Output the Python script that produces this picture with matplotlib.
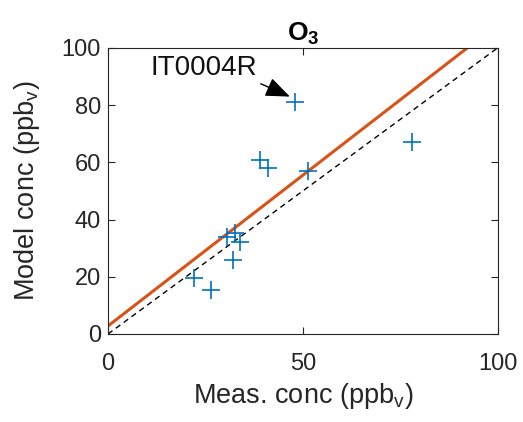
import matplotlib
matplotlib.use("Agg")
import matplotlib.pyplot as plt
import numpy as np

plt.rcParams['font.family'] = ['Liberation Sans', 'DejaVu Sans']
plt.rcParams['mathtext.fontset'] = 'custom'
plt.rcParams['mathtext.rm'] = 'Liberation Sans'
plt.rcParams['mathtext.it'] = 'Liberation Sans'
plt.rcParams['mathtext.bf'] = 'Liberation Sans:bold'

meas = [48, 78, 39, 41, 51.3, 30.5, 32.6, 34, 32.2, 22, 26.5]
model = [81, 67, 61, 58, 57, 34, 35.2, 32, 26, 19.5, 15.5]
fit_intercept = 2.8
fit_slope = 1.054
xticks = [0, 50, 100]
yticks = [0, 20, 40, 60, 80, 100]
annot_label = "IT0004R"
annot_point = (48, 81)

fig = plt.figure(figsize=(5.23, 4.22), dpi=100)
ax = fig.add_axes([108/523, 1-334/422, (497.5-108)/523, (334-48)/422])

xx = np.array([0, 100])
ax.plot(xx, xx, '--', color='black', lw=1.0, dashes=(4, 3))
ax.plot(xx, fit_intercept + fit_slope*xx, '-', color='#D95319', lw=2.2)
ax.plot(meas, model, '+', color='#0072BD', ms=13, mew=1.2, linestyle='none')

ax.annotate(annot_label, xy=(annot_point[0]-1.3, annot_point[1]+2.0), xytext=(24.5, 93.0),
            fontsize=20, ha='center', va='center', color='#111111',
            arrowprops=dict(arrowstyle='-|>,head_length=0.75,head_width=0.3', color='black', lw=1.0,
                            shrinkA=1, shrinkB=0, relpos=(0.98, 0.0)))

ax.set_xlim(0, 100)
ax.set_ylim(0, 100)
ax.set_xticks(xticks)
ax.set_yticks(yticks)
ax.tick_params(direction='in', top=True, right=True, labelsize=17, length=5, width=0.8,
               colors='#262626')
ax.tick_params(axis='x', pad=14)
ax.tick_params(axis='y', pad=5)
for s in ax.spines.values():
    s.set_linewidth(0.8)
    s.set_color('#262626')
ax.set_xlabel('Meas. conc (ppb$_v$)', fontsize=19.5, color='#262626', labelpad=4)
ax.set_ylabel('Model conc (ppb$_v$)', fontsize=19.5, color='#262626', labelpad=14)
ax.set_title('O$_\\mathbf{3}$', fontsize=19, fontweight='bold', pad=5)

fig.savefig('out.png', dpi=100)
